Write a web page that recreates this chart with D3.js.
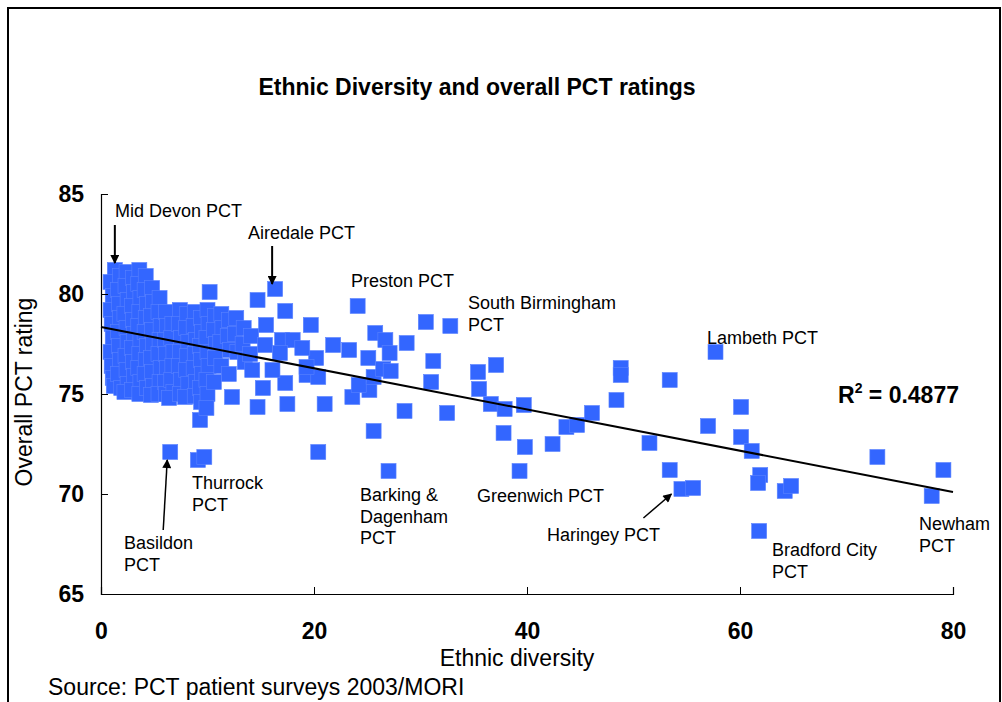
<!DOCTYPE html>
<html>
<head>
<meta charset="utf-8">
<script src="https://cdn.jsdelivr.net/npm/d3@7"></script>
<style>
  html, body { margin: 0; padding: 0; background: #fff; }
  svg { display: block; font-family: "Liberation Sans", Arial, sans-serif; }
</style>
</head>
<body>
<svg id="chart" width="1002" height="702"></svg>
<script>
// Ethnic diversity (x) and overall PCT rating (y) for each PCT.
// PCTs with low ethnic diversity (dense group near the y axis)
const lowDiversityPCTs = [
  [1.3,81.2],[0.9,80.6],[1.1,79.9],[0.9,79.2],[1.0,78.5],[1.1,77.8],[0.9,77.1],[1.0,76.4],[1.1,75.8],[1.2,75.4],
  [1.8,80.9],[1.6,80.2],[1.7,79.5],[1.8,78.8],[1.6,78.1],[1.7,77.4],[1.8,76.7],[1.6,76.0],[1.9,75.3],
  [2.4,81.1],[2.3,80.4],[2.5,79.7],[2.2,79.0],[2.4,78.3],[2.5,77.6],[2.3,76.9],[2.4,76.2],[2.5,75.5],[2.2,75.1],
  [3.0,80.8],[3.1,80.1],[2.9,79.4],[3.0,78.7],[3.1,78.0],[2.9,77.3],[3.0,76.6],[3.1,75.9],[2.9,75.2],
  [3.6,81.2],[3.5,80.5],[3.7,79.8],[3.6,79.1],[3.5,78.4],[3.7,77.7],[3.6,77.0],[3.5,76.3],[3.7,75.6],[3.6,75.0],
  [4.2,80.9],[4.1,80.2],[4.3,79.5],[4.2,78.8],[4.1,78.1],[4.3,77.4],[4.2,76.7],[4.1,76.0],[4.3,75.3],
  [4.8,80.3],[4.9,79.6],[4.7,78.9],[4.8,78.2],[4.9,77.5],[4.7,76.8],[4.8,76.1],[4.9,75.4],[4.7,74.95],
  [5.5,79.8],[5.4,79.1],[5.6,78.4],[5.5,77.7],[5.4,77.0],[5.6,76.3],[5.5,75.6],[5.4,75.0],
  [6.1,79.1],[6.2,78.4],[6.0,77.7],[6.1,77.0],[6.2,76.3],[6.0,75.6],[6.1,75.0],
  [6.7,78.5],[6.6,77.8],[6.8,77.1],[6.7,76.4],[6.6,75.7],[6.8,75.1],[6.4,74.8],
  [7.4,79.2],[7.3,78.5],[7.5,77.8],[7.4,77.1],[7.3,76.4],[7.5,75.7],[7.4,75.0],
  [8.1,79.0],[8.0,78.3],[8.2,77.6],[8.1,76.9],[8.0,76.2],[8.2,75.5],[7.9,74.85],
  [8.8,79.1],[8.7,78.4],[8.9,77.7],[8.8,77.0],[8.7,76.3],[8.9,75.6],[8.8,74.9],
  [9.4,78.8],[9.5,78.1],[9.3,77.4],[9.4,76.7],[9.5,76.0],[9.3,75.3],[9.4,74.6],[9.3,73.7],
  [10.0,79.2],[10.1,78.5],[9.9,77.8],[10.0,77.1],[10.1,76.4],[9.9,75.7],[10.0,75.0],[9.9,74.3],[10.2,80.1],
  [10.7,78.9],[10.6,78.2],[10.8,77.5],[10.7,76.8],[10.6,75.6],
  [11.3,79.0],[11.4,78.3],[11.2,77.6],[11.3,76.4],
  [12.0,78.7],[11.9,77.9],[12.1,77.2],[12.0,76.0],
  [12.7,78.8],[12.6,78.0],[12.8,77.1],
  [13.4,78.3],[13.3,77.5],[13.5,76.6],
  [14.1,77.9],[14.0,77.0],[14.2,76.2]
];

// PCTs spread across the rest of the range
const otherPCTs = [
  [14.7,79.7],[16.35,80.25],[17.3,79.15],[15.5,78.45],[19.7,78.45],[24.1,79.4],[30.5,78.6],[32.8,78.4],
  [21.8,77.45],[23.3,77.2],[25.75,78.05],[26.7,77.7],[27.1,77.05],[28.7,77.55],[25.1,76.8],[31.2,76.65],
  [31.0,75.6],[32.5,74.05],[28.5,74.15],[25.6,73.15],[20.4,72.1],[27.0,71.15],[21.0,74.5],[17.5,74.5],
  [14.7,74.35],[12.3,74.85],[23.6,74.85],[25.2,75.2],[24.2,75.45],[25.6,75.85],[26.5,76.25],[27.2,76.15],
  [19.3,75.95],[20.4,75.85],[20.2,76.8],[19.3,76.35],[17.3,75.55],[15.2,75.3],[16.1,76.2],[17.0,77.7],
  [18.0,77.7],[18.9,77.3],[16.8,77.05],[15.4,77.45],
  [35.4,76.1],[37.1,76.45],[35.5,75.25],[36.6,74.5],[37.9,74.25],[39.7,74.45],[37.8,73.05],[39.8,72.35],
  [39.3,71.15],[42.4,72.5],[43.7,73.35],[44.7,73.45],[46.1,74.05],[48.4,74.7],[48.8,76.3],[48.8,75.95],
  [53.4,75.7],[51.5,72.55],[53.4,71.2],[54.5,70.25],[55.6,70.3],[57.7,77.1],[57.0,73.4],[60.1,74.35],
  [60.1,72.85],[61.1,72.15],[61.9,70.95],[61.7,70.55],[64.2,70.15],[64.8,70.4],[61.8,68.15],[72.9,71.85],
  [79.1,71.2],[78.0,69.9],
  [6.5,72.1],[9.1,71.7],[9.7,71.85]
];

const xTicks = [0, 20, 40, 60, 80];
const yTicks = [65, 70, 75, 80, 85];

// Linear trend fitted to the ratings
const trendIntercept = 78.35;
const trendSlope = -0.1031;
const rSquared = 0.4877;

// Named PCTs
const labelNames = ["Mid Devon PCT", "Airedale PCT", "Preston PCT", "South Birmingham PCT", "Lambeth PCT",
  "Thurrock PCT", "Basildon PCT", "Barking & Dagenham PCT", "Greenwich PCT", "Haringey PCT",
  "Bradford City PCT", "Newham PCT"];
// PCTs that have an arrow pointing at their marker
const arrowTargets = [
  ["Mid Devon PCT", [1.3, 81.2]],
  ["Airedale PCT", [16.35, 80.25]],
  ["Basildon PCT", [6.5, 72.1]],
  ["Haringey PCT", [54.5, 70.25]]
];

const svg = d3.select("#chart");

const x = d3.scaleLinear().domain([0, 80]).range([101, 953]);
const y = d3.scaleLinear().domain([65, 85]).range([594, 194]);

// outer frame
svg.append("rect")
  .attr("x", 8).attr("y", 8).attr("width", 992).attr("height", 760)
  .attr("fill", "none").attr("stroke", "#000").attr("stroke-width", 2);

// title
svg.append("text")
  .attr("x", 477).attr("y", 95)
  .attr("text-anchor", "middle")
  .attr("font-size", 23).attr("font-weight", "bold")
  .text("Ethnic Diversity and overall PCT ratings");

// markers
const allPCTs = lowDiversityPCTs.concat(otherPCTs);
const markerSize = 15;
svg.append("g").selectAll("rect")
  .data(allPCTs)
  .join("rect")
  .attr("x", d => x(d[0]) - markerSize / 2)
  .attr("y", d => y(d[1]) - markerSize / 2)
  .attr("width", markerSize).attr("height", markerSize)
  .attr("fill", "#3366ff")
  .attr("stroke", "#5a82ff").attr("stroke-width", 0.6);

// trend line
svg.append("line")
  .attr("x1", x(0)).attr("y1", y(trendIntercept))
  .attr("x2", x(80)).attr("y2", y(trendIntercept + trendSlope * 80))
  .attr("stroke", "#000").attr("stroke-width", 2);

// axes
const yAxis = d3.axisLeft(y).tickValues(yTicks).tickSize(-7).tickPadding(17).tickFormat(d3.format("d"));
const xAxis = d3.axisBottom(x).tickValues(xTicks).tickSize(-7).tickPadding(29).tickFormat(d3.format("d"));

const gy = svg.append("g").attr("transform", `translate(${x(0)},0)`).call(yAxis);
const gx = svg.append("g").attr("transform", `translate(0,${y(65)})`).call(xAxis);
[gx, gy].forEach(g => {
  g.select(".domain").attr("stroke", "#000").attr("stroke-width", 1.2);
  g.selectAll(".tick line").attr("stroke", "#000").attr("stroke-width", 1);
  g.selectAll(".tick text")
    .attr("font-family", "'Liberation Sans', Arial, sans-serif")
    .attr("font-size", 23).attr("font-weight", "bold").attr("fill", "#000");
});

// axis titles and source
svg.append("text")
  .attr("transform", `translate(32,${(y(65) + y(85)) / 2 - 2}) rotate(-90)`)
  .attr("text-anchor", "middle").attr("font-size", 23)
  .text("Overall PCT rating");
svg.append("text")
  .attr("x", 517).attr("y", 666).attr("text-anchor", "middle").attr("font-size", 23)
  .text("Ethnic diversity");
svg.append("text")
  .attr("x", 48).attr("y", 695).attr("font-size", 23)
  .text("Source: PCT patient surveys 2003/MORI");

// label placement (left x, first baseline, wrapped lines)
const labelLayout = {
  "Mid Devon PCT": { x: 115, y: 217, lines: ["Mid Devon PCT"] },
  "Airedale PCT": { x: 248, y: 239, lines: ["Airedale PCT"] },
  "Preston PCT": { x: 351, y: 287, lines: ["Preston PCT"] },
  "South Birmingham PCT": { x: 468, y: 309, lines: ["South Birmingham", "PCT"] },
  "Lambeth PCT": { x: 707, y: 344, lines: ["Lambeth PCT"] },
  "Thurrock PCT": { x: 192, y: 489, lines: ["Thurrock", "PCT"] },
  "Basildon PCT": { x: 124, y: 549, lines: ["Basildon", "PCT"] },
  "Barking & Dagenham PCT": { x: 360, y: 501, lines: ["Barking &", "Dagenham", "PCT"] },
  "Greenwich PCT": { x: 477, y: 502, lines: ["Greenwich PCT"] },
  "Haringey PCT": { x: 547, y: 541, lines: ["Haringey PCT"] },
  "Bradford City PCT": { x: 772, y: 556, lines: ["Bradford City", "PCT"] },
  "Newham PCT": { x: 919, y: 530, lines: ["Newham", "PCT"] }
};
const labels = svg.append("g").attr("font-size", 18).attr("fill", "#000");
labelNames.forEach(name => {
  const L = labelLayout[name];
  const t = labels.append("text").attr("x", L.x).attr("y", L.y);
  L.lines.forEach((line, i) => {
    t.append("tspan").attr("x", L.x).attr("dy", i === 0 ? 0 : 21.5).text(line);
  });
});

// arrows: tip offset from the marker centre and tail offset from the tip
const arrowLayout = {
  "Mid Devon PCT": { tip: [0, -7], tail: [0, -38], width: 2 },
  "Airedale PCT": { tip: [-3, -5], tail: [0, -38], width: 2 },
  "Basildon PCT": { tip: [-3, 8], tail: [-4, 70], width: 1.5 },
  "Haringey PCT": { tip: [-10, 5], tail: [-28, 24], width: 1.5 }
};
const defs = svg.append("defs");
defs.append("marker")
  .attr("id", "arrowhead")
  .attr("viewBox", "0 0 10 10").attr("refX", 9).attr("refY", 5)
  .attr("markerWidth", 10).attr("markerHeight", 9)
  .attr("markerUnits", "userSpaceOnUse")
  .attr("orient", "auto")
  .append("path").attr("d", "M0,0 L10,5 L0,10 Z").attr("fill", "#000");

arrowTargets.forEach(([name, pt]) => {
  const A = arrowLayout[name];
  const tx = x(pt[0]) + A.tip[0], ty = y(pt[1]) + A.tip[1];
  svg.append("line")
    .attr("x1", tx + A.tail[0]).attr("y1", ty + A.tail[1])
    .attr("x2", tx).attr("y2", ty)
    .attr("stroke", "#000").attr("stroke-width", A.width)
    .attr("marker-end", "url(#arrowhead)");
});

// R-squared of the trend
const r2 = svg.append("text")
  .attr("x", 838).attr("y", 403)
  .attr("font-size", 23).attr("font-weight", "bold");
r2.append("tspan").text("R");
r2.append("tspan").attr("font-size", 14).attr("dy", -10).text("2");
r2.append("tspan").attr("dy", 10).text(" = " + rSquared.toFixed(4));
</script>
</body>
</html>
